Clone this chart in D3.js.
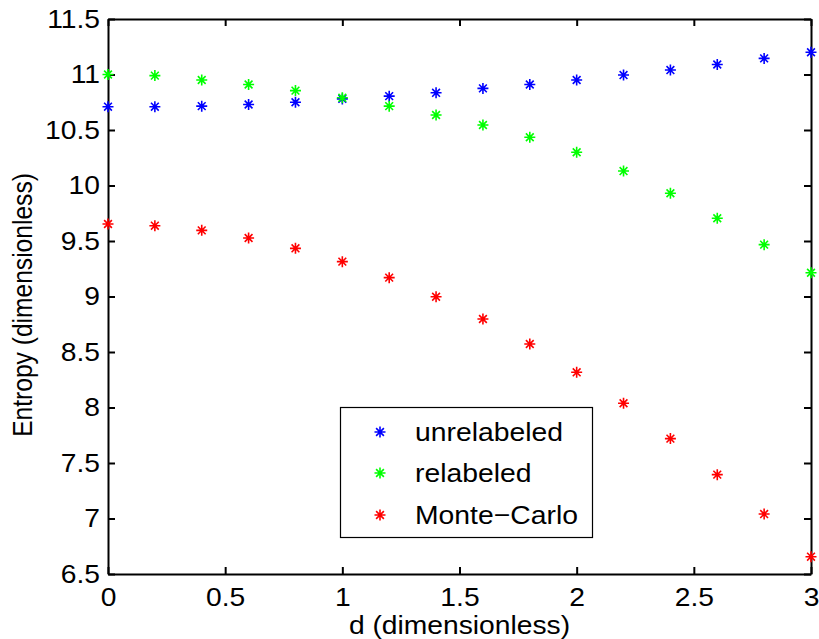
<!DOCTYPE html>
<html>
<head>
<meta charset="utf-8">
<script src="https://cdn.jsdelivr.net/npm/d3@7"></script>
<style>
  html, body { margin: 0; padding: 0; background: #fff; }
  svg { display: block; font-family: "Liberation Sans", Arial, Helvetica, sans-serif; }
</style>
</head>
<body>
<svg id="chart" width="819" height="639"></svg>
<script>
// d values along the x axis
const dValues = [0, 0.2, 0.4, 0.6, 0.8, 1.0, 1.2, 1.4, 1.6, 1.8, 2.0, 2.2, 2.4, 2.6, 2.8, 3.0];

// Entropy estimates for each method
const unrelabeled = [10.71, 10.71, 10.715, 10.73, 10.75, 10.78, 10.805, 10.835, 10.875, 10.91, 10.95, 10.995, 11.04, 11.09, 11.145, 11.20];
const relabeled   = [11.00, 10.99, 10.95, 10.91, 10.855, 10.79, 10.715, 10.635, 10.545, 10.435, 10.30, 10.13, 9.93, 9.705, 9.467, 9.214];
const monteCarlo  = [9.653, 9.638, 9.596, 9.527, 9.434, 9.314, 9.17, 8.998, 8.797, 8.572, 8.317, 8.038, 7.72, 7.395, 7.04, 6.656];

const seriesNames = ["unrelabeled", "relabeled", "Monte\u2212Carlo"];
const seriesColors = ["#0000ff", "#00ff00", "#ff0000"];
const seriesValues = [unrelabeled, relabeled, monteCarlo];

const xTicks = [0, 0.5, 1, 1.5, 2, 2.5, 3];
const yTicks = [6.5, 7, 7.5, 8, 8.5, 9, 9.5, 10, 10.5, 11, 11.5];

const xLabel = "d (dimensionless)";
const yLabel = "Entropy (dimensionless)";

const svg = d3.select("#chart");
const plot = { left: 108, right: 811, top: 19, bottom: 574 };

const x = d3.scaleLinear().domain([0, 3]).range([plot.left, plot.right]);
const y = d3.scaleLinear().domain([6.5, 11.5]).range([plot.bottom, plot.top]);

const fmt = d => String(d);
const tickLen = 7;
const fontSize = 25;
const stretch = 1.13;   // glyphs are drawn slightly wide

// Box frame with inward ticks on every side
const axB = d3.axisBottom(x).tickValues(xTicks).tickFormat(fmt).tickSizeInner(-tickLen).tickSizeOuter(0).tickPadding(14);
const axT = d3.axisTop(x).tickValues(xTicks).tickFormat("").tickSizeInner(-tickLen).tickSizeOuter(0);
const axL = d3.axisLeft(y).tickValues(yTicks).tickFormat(fmt).tickSizeInner(-tickLen).tickSizeOuter(0).tickPadding(8);
const axR = d3.axisRight(y).tickValues(yTicks).tickFormat("").tickSizeInner(-tickLen).tickSizeOuter(0);

function styleAxis(g) {
  g.select(".domain").attr("stroke", "#000").attr("stroke-width", 2);
  g.selectAll(".tick line").attr("stroke", "#000").attr("stroke-width", 2);
  g.selectAll(".tick text")
    .attr("fill", "#000")
    .style("font-size", fontSize + "px")
    .style("font-family", "'Liberation Sans', Arial, sans-serif")
    .attr("transform", function () {
      const ax = +this.getAttribute("x") || 0;
      return `translate(${ax},0) scale(${stretch},1) translate(${-ax},0)`;
    });
}

svg.append("g").attr("transform", `translate(0,${plot.bottom})`).call(axB).call(styleAxis);
svg.append("g").attr("transform", `translate(0,${plot.top})`).call(axT).call(styleAxis);
svg.append("g").attr("transform", `translate(${plot.left},0)`).call(axL).call(styleAxis);
svg.append("g").attr("transform", `translate(${plot.right},0)`).call(axR).call(styleAxis);

// Axis titles
svg.append("text")
  .attr("transform", `translate(${(plot.left + plot.right) / 2},634) scale(${stretch},1)`)
  .attr("text-anchor", "middle")
  .style("font-size", "25px")
  .text(xLabel);

svg.append("text")
  .attr("transform", `translate(32,305) scale(${stretch},1) rotate(-90)`)
  .attr("text-anchor", "middle")
  .style("font-size", "24.6px")
  .text(yLabel);

// Eight-armed asterisk marker
const asterisk = {
  draw(context, size) {
    const r = Math.sqrt(size) / 2;
    const d = r * Math.SQRT1_2;
    context.moveTo(-r, 0); context.lineTo(r, 0);
    context.moveTo(0, -r); context.lineTo(0, r);
    context.moveTo(-d, -d); context.lineTo(d, d);
    context.moveTo(-d, d); context.lineTo(d, -d);
  }
};
const markerPath = d3.symbol().type(asterisk).size(121)();

seriesValues.forEach((vals, i) => {
  svg.append("g")
    .selectAll("path")
    .data(vals)
    .join("path")
    .attr("d", markerPath)
    .attr("transform", (v, j) => `translate(${x(dValues[j])},${y(v)})`)
    .attr("fill", "none")
    .attr("stroke", seriesColors[i])
    .attr("stroke-width", 1.6);
});

// Legend
const legend = svg.append("g");
legend.append("rect")
  .attr("x", 340.5).attr("y", 407.5)
  .attr("width", 252).attr("height", 130)
  .attr("fill", "#fff").attr("stroke", "#000").attr("stroke-width", 1.2);

const rowY = [432, 473, 515];
seriesNames.forEach((name, i) => {
  legend.append("path")
    .attr("d", markerPath)
    .attr("transform", `translate(380,${rowY[i]})`)
    .attr("fill", "none")
    .attr("stroke", seriesColors[i])
    .attr("stroke-width", 1.6);
  legend.append("text")
    .attr("transform", `translate(415,${rowY[i]}) scale(1.09,1)`)
    .attr("dy", "0.36em")
    .style("font-size", "26px")
    .text(name);
});
</script>
</body>
</html>
